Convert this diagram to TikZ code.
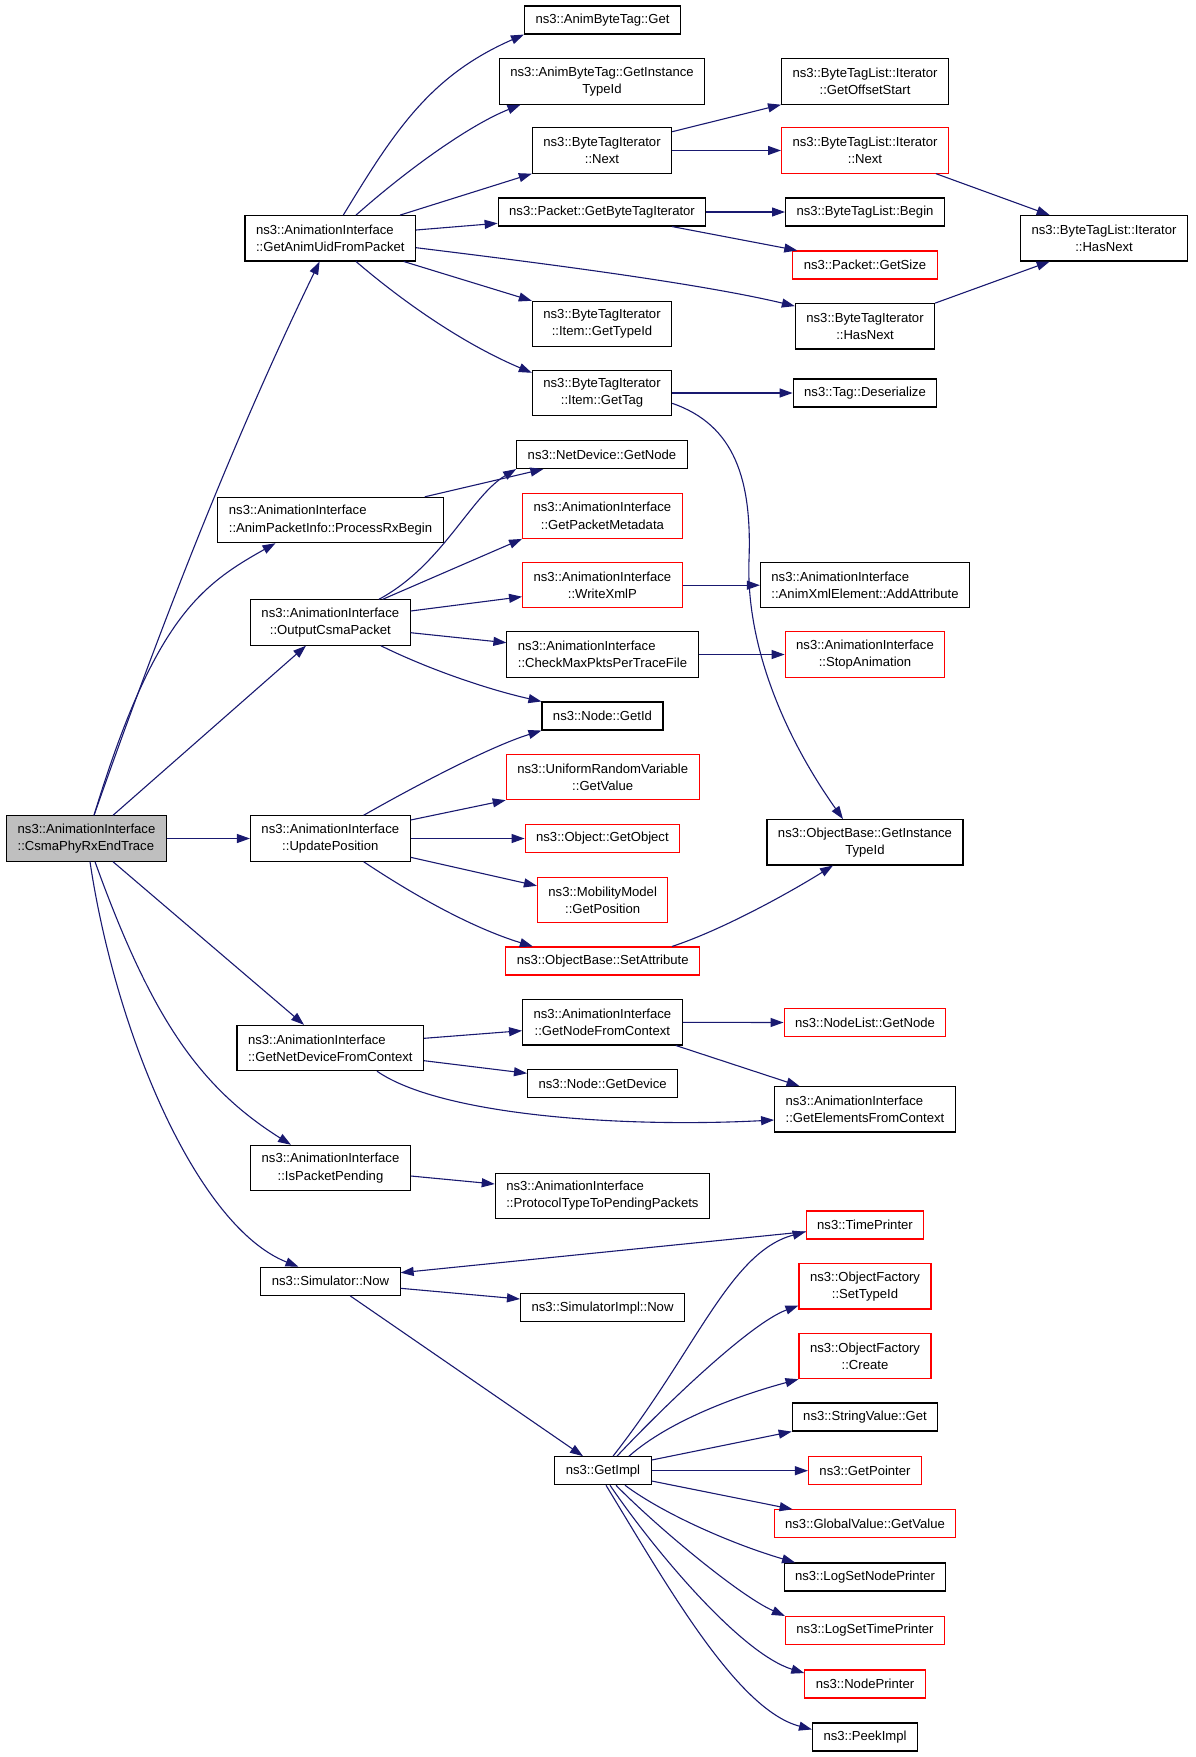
\documentclass[tikz,border=0pt]{standalone}
\usepackage{fontspec}
\setmainfont{Liberation Sans}
\usepackage{xcolor}
\usetikzlibrary{arrows.meta}
\definecolor{callblue}{HTML}{191970}
\definecolor{rootgray}{HTML}{BFBFBF}
\tikzset{
  func/.style = {
      draw=black,
      line width=1.1pt,
      rectangle,
      fill=white,
      font=\fontsize{13.1}{17.3}\selectfont,
      inner xsep=11pt,
      inner ysep=3pt,
      minimum height=28pt,
      align=center
  },
  two/.style = {
      func,
      minimum height=45.3pt
  },
  twol/.style = {
      two,
      align=left
  },
  undoc/.style = {
      draw=red
  },
  root/.style = {
      fill=rootgray
  },
  call/.style = {
      draw=callblue,
      line width=1.1pt,
      -{Triangle[length=13pt,width=9pt]}
  }
}
\begin{document}
\begin{tikzpicture}[x=1pt, y=-1pt]
    \useasboundingbox (0,0) rectangle (1195,1757);
    % Nodes
    \node[twol, root] (cpre) at (86.5,838.5) {ns3::AnimationInterface\\::CsmaPhyRxEndTrace};
    \node[twol] (guid) at (330.3,238.3) {ns3::AnimationInterface\\::GetAnimUidFromPacket};
    \node[twol] (prx) at (330.5,520) {ns3::AnimationInterface\\::AnimPacketInfo::ProcessRxBegin};
    \node[two] (ocp) at (330.3,622.5) {ns3::AnimationInterface\\::OutputCsmaPacket};
    \node[two] (upos) at (330.3,838.5) {ns3::AnimationInterface\\::UpdatePosition};
    \node[twol] (gndc) at (330.3,1048) {ns3::AnimationInterface\\::GetNetDeviceFromContext};
    \node[two] (ipp) at (330.5,1168) {ns3::AnimationInterface\\::IsPacketPending};
    \node[func] (snow) at (330.5,1281.3) {ns3::Simulator::Now};
    \node[func] (abtget) at (602.5,20) {ns3::AnimByteTag::Get};
    \node[two] (abtgit) at (602,81.5) {ns3::AnimByteTag::GetInstance\\TypeId};
    \node[two] (btinext) at (602,150.5) {ns3::ByteTagIterator\\::Next};
    \node[func] (pgbti) at (602,212) {ns3::Packet::GetByteTagIterator};
    \node[two] (btigtid) at (602,324) {ns3::ByteTagIterator\\::Item::GetTypeId};
    \node[two] (btigtag) at (602,393) {ns3::ByteTagIterator\\::Item::GetTag};
    \node[func] (ndgn) at (602,454.5) {ns3::NetDevice::GetNode};
    \node[two, undoc] (gpm) at (602.4,515.7) {ns3::AnimationInterface\\::GetPacketMetadata};
    \node[two, undoc] (wxml) at (602.4,585.2) {ns3::AnimationInterface\\::WriteXmlP};
    \node[twol] (cmpp) at (602.5,654.5) {ns3::AnimationInterface\\::CheckMaxPktsPerTraceFile};
    \node[func] (ngid) at (602.5,716) {ns3::Node::GetId};
    \node[two, undoc] (urv) at (602.7,777) {ns3::UniformRandomVariable\\::GetValue};
    \node[func, undoc] (ogo) at (602.4,838.5) {ns3::Object::GetObject};
    \node[two, undoc] (mmgp) at (602.7,900) {ns3::MobilityModel\\::GetPosition};
    \node[func, undoc] (obsa) at (602.7,961) {ns3::ObjectBase::SetAttribute};
    \node[two] (gnfc) at (602.4,1022.3) {ns3::AnimationInterface\\::GetNodeFromContext};
    \node[func] (ngdev) at (602.6,1083.8) {ns3::Node::GetDevice};
    \node[twol] (ptpp) at (602.4,1195.8) {ns3::AnimationInterface\\::ProtocolTypeToPendingPackets};
    \node[func] (simpnow) at (602.5,1307.8) {ns3::SimulatorImpl::Now};
    \node[func] (gimpl) at (603,1470.7) {ns3::GetImpl};
    \node[two] (btlgos) at (865,81.5) {ns3::ByteTagList::Iterator\\::GetOffsetStart};
    \node[two, undoc] (btlnext) at (865,150.5) {ns3::ByteTagList::Iterator\\::Next};
    \node[func] (btlbegin) at (865,212) {ns3::ByteTagList::Begin};
    \node[func, undoc] (pgs) at (865,265) {ns3::Packet::GetSize};
    \node[two] (btihn) at (865,326.3) {ns3::ByteTagIterator\\::HasNext};
    \node[func] (tagdes) at (865,393) {ns3::Tag::Deserialize};
    \node[twol] (axea) at (865,585.2) {ns3::AnimationInterface\\::AnimXmlElement::AddAttribute};
    \node[two, undoc] (stopa) at (865,654.5) {ns3::AnimationInterface\\::StopAnimation};
    \node[two] (obgit) at (865,842.3) {ns3::ObjectBase::GetInstance\\TypeId};
    \node[func, undoc] (nlgn) at (865,1022.5) {ns3::NodeList::GetNode};
    \node[twol] (gefc) at (865,1109.3) {ns3::AnimationInterface\\::GetElementsFromContext};
    \node[func, undoc] (tprint) at (865,1225) {ns3::TimePrinter};
    \node[two, undoc] (ofsti) at (865,1286.3) {ns3::ObjectFactory\\::SetTypeId};
    \node[two, undoc] (ofc) at (865,1356) {ns3::ObjectFactory\\::Create};
    \node[func] (svget) at (865,1417) {ns3::StringValue::Get};
    \node[func, undoc] (gptr) at (865,1470.7) {ns3::GetPointer};
    \node[func, undoc] (gvgv) at (865,1523.8) {ns3::GlobalValue::GetValue};
    \node[func] (lsnp) at (865,1577) {ns3::LogSetNodePrinter};
    \node[func, undoc] (lstp) at (865,1630.5) {ns3::LogSetTimePrinter};
    \node[func, undoc] (nprint) at (865,1684) {ns3::NodePrinter};
    \node[func] (peek) at (865,1737) {ns3::PeekImpl};
    \node[two] (btlhn) at (1104,238.3) {ns3::ByteTagList::Iterator\\::HasNext};
    % Edges from CsmaPhyRxEndTrace
    \draw[call] ([xshift=7.5pt]cpre.north) .. controls (160,628) and (232,442) .. ([xshift=-10.7pt]guid.south);
    \draw[call] ([xshift=7.5pt]cpre.north) .. controls (153.5,620) and (200,585.5) .. ([xshift=-55pt]prx.south);
    \draw[call] ([xshift=26.5pt]cpre.north) -- ([xshift=-24.3pt]ocp.south);
    \draw[call] (cpre.east) -- (upos.west);
    \draw[call] ([xshift=26.5pt]cpre.south) -- ([xshift=-26.3pt]gndc.north);
    \draw[call] ([xshift=8.5pt]cpre.south) .. controls (151,1017) and (199,1087) .. ([xshift=-39.5pt]ipp.north);
    \draw[call] ([xshift=3.5pt]cpre.south) .. controls (116,1036) and (198,1227) .. ([xshift=-32pt]snow.north);
    % Edges from GetAnimUidFromPacket
    \draw[call] ([xshift=13pt]guid.north) .. controls (395,130) and (430.5,75.5) .. (abtget.south west);
    \draw[call] ([xshift=25.7pt]guid.north) .. controls (408,169) and (469.6,125) .. ([xshift=-81.5pt]abtgit.south);
    \draw[call] ([xshift=69.7pt]guid.north) -- (btinext.south west);
    \draw[call] ([yshift=8.3pt]guid.east) -- ([yshift=-11.3pt]pgbti.west);
    \draw[call] ([yshift=-9.4pt]guid.east) .. controls (516,260) and (694,282) .. ([yshift=-3pt]btihn.north west);
    \draw[call] ([xshift=73.4pt]guid.south) -- (btigtid.north west);
    \draw[call] ([xshift=25.7pt]guid.south) .. controls (408,306) and (467,345.4) .. ([yshift=-3pt]btigtag.north west);
    \draw[call] ([yshift=18.8pt]btinext.east) -- (btlgos.south west);
    \draw[call] (btinext.east) -- (btlnext.west);
    \draw[call] (pgbti.east) -- (btlbegin.west);
    \draw[call] ([xshift=70pt]pgbti.south) -- ([xshift=5pt]pgs.north west);
    \draw[call] ([xshift=71pt]btlnext.south) -- ([xshift=-54.3pt]btlhn.north);
    \draw[call] (btihn.north east) -- ([xshift=-54.3pt]btlhn.south);
    \draw[call] (btigtag.east) -- (tagdes.west);
    \draw[call] ([yshift=-10.3pt]btigtag.east) .. controls (735,425) and (752,480) .. (749,560)
        .. controls (746,640) and (780,730) .. ([xshift=-22pt]obgit.north);
    % Edges from ProcessRxBegin and OutputCsmaPacket
    \draw[call] ([xshift=94.3pt]prx.north) -- ([xshift=-58.6pt]ndgn.south);
    \draw[call] ([xshift=48.6pt]ocp.north) .. controls (442,565.5) and (470.5,496.5) .. (ndgn.south west);
    \draw[call] ([xshift=52.4pt]ocp.north) -- (gpm.south west);
    \draw[call] ([yshift=11.5pt]ocp.east) -- ([yshift=-11.5pt]wxml.west);
    \draw[call] ([yshift=-10.2pt]ocp.east) -- ([yshift=11.8pt]cmpp.west);
    \draw[call] ([xshift=50.5pt]ocp.south) .. controls (430,670) and (490,690) .. (ngid.north west);
    \draw[call] (wxml.east) -- (axea.west);
    \draw[call] (cmpp.east) -- (stopa.west);
    % Edges from UpdatePosition
    \draw[call] ([xshift=33.3pt]upos.north) .. controls (415,786) and (490,746.6) .. (ngid.south west);
    \draw[call] ([yshift=18.5pt]upos.east) -- (urv.south west);
    \draw[call] (upos.east) -- (ogo.west);
    \draw[call] ([yshift=-18.8pt]upos.east) -- ([yshift=-9pt]mmgp.north west);
    \draw[call] ([xshift=33.3pt]upos.south) .. controls (415,896) and (472.6,928) .. ([xshift=27.6pt]obsa.north west);
    \draw[call] ([xshift=69.3pt]obsa.north) .. controls (722,930) and (789,893) .. ([xshift=-32pt]obgit.south);
    % Edges from GetNetDeviceFromContext and IsPacketPending
    \draw[call] ([yshift=9.7pt]gndc.east) -- ([yshift=-8.4pt]gnfc.west);
    \draw[call] ([yshift=-12.7pt]gndc.east) -- ([yshift=10.5pt]ngdev.west);
    \draw[call] ([xshift=46.7pt]gndc.south) .. controls (440,1115) and (620,1128) .. ([yshift=-10.7pt]gefc.west);
    \draw[call] (gnfc.east) -- (nlgn.west);
    \draw[call] ([xshift=73.5pt]gnfc.south) -- ([xshift=25.4pt]gefc.north west);
    \draw[call] ([yshift=-8pt]ipp.east) -- ([yshift=11.8pt]ptpp.west);
    % Edges from Simulator::Now and GetImpl
    \draw[call] ([yshift=-6.7pt]tprint.west) -- ([yshift=8.6pt]snow.east);
    \draw[call] ([yshift=-7pt]snow.east) -- ([yshift=8.8pt]simpnow.west);
    \draw[call] ([xshift=19.7pt]snow.south) -- ([xshift=-20pt]gimpl.north);
    \draw[call] ([xshift=10pt]gimpl.north) .. controls (697,1349) and (730,1252) .. ([yshift=-6.7pt]tprint.west);
    \draw[call] ([xshift=14pt]gimpl.north) .. controls (666.5,1403.5) and (751,1323) .. ([yshift=4pt]ofsti.south west);
    \draw[call] ([xshift=26pt]gimpl.north) .. controls (670,1420) and (740,1395) .. (ofc.south west);
    \draw[call] ([yshift=10.7pt]gimpl.east) -- (svget.south west);
    \draw[call] (gimpl.east) -- (gptr.west);
    \draw[call] ([yshift=-10.3pt]gimpl.east) -- ([xshift=19pt]gvgv.north west);
    \draw[call] ([xshift=22pt]gimpl.south) .. controls (665,1515) and (735,1545) .. ([xshift=11.5pt]lsnp.north west);
    \draw[call] ([xshift=13pt]gimpl.south) .. controls (658,1528) and (740,1596) .. (lstp.north west);
    \draw[call] ([xshift=7pt]gimpl.south) .. controls (655.6,1552) and (741,1653.5) .. ([yshift=-3.6pt]nprint.north west);
    \draw[call] ([xshift=3pt]gimpl.south) .. controls (670,1590.6) and (738,1710) .. ([yshift=-7pt]peek.north west);
\end{tikzpicture}
\end{document}
